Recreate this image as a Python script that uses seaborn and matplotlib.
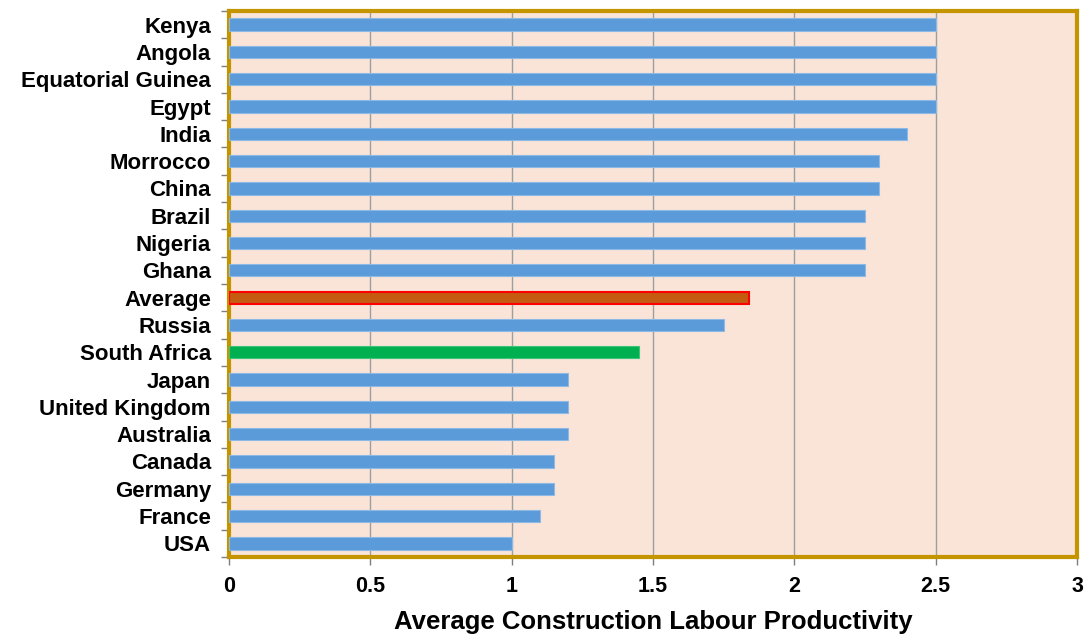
import matplotlib
matplotlib.use("Agg")
import matplotlib.pyplot as plt
import seaborn as sns
import pandas as pd

countries = ["Kenya", "Angola", "Equatorial Guinea", "Egypt", "India", "Morrocco",
             "China", "Brazil", "Nigeria", "Ghana", "Average", "Russia",
             "South Africa", "Japan", "United Kingdom", "Australia", "Canada",
             "Germany", "France", "USA"]
productivity = [2.5, 2.5, 2.5, 2.5, 2.4, 2.3, 2.3, 2.25, 2.25, 2.25, 1.84, 1.75,
                1.45, 1.2, 1.2, 1.2, 1.15, 1.15, 1.1, 1.0]
x_ticks = [0, 0.5, 1, 1.5, 2, 2.5, 3]
x_tick_labels = ["0", "0.5", "1", "1.5", "2", "2.5", "3"]

blue = "#5B9BD9"
colors = {c: blue for c in countries}
colors["Average"] = "#C55A11"
colors["South Africa"] = "#00B050"

df = pd.DataFrame({"country": countries, "value": productivity})

sns.set_style("white")
plt.rcParams["font.family"] = ["Liberation Sans", "DejaVu Sans"]
plt.rcParams["text.color"] = "black"
plt.rcParams["xtick.color"] = "black"
plt.rcParams["ytick.color"] = "black"
plt.rcParams["axes.labelcolor"] = "black"

fig = plt.figure(figsize=(10.87, 6.35), dpi=100)
ax = fig.add_axes([0.2107, 0.1228, 0.7801, 0.8599])
ax.set_facecolor("#FAE4D7")

sns.barplot(data=df, x="value", y="country", hue="country", palette=colors,
            legend=False, width=0.45, orient="h", saturation=1, ax=ax, zorder=3)

for patch, name in zip(ax.patches, countries):
    if name == "Average":
        patch.set_edgecolor("#FF0000")
        patch.set_linewidth(1.5)
    else:
        patch.set_edgecolor("#8DB9E6" if name != "South Africa" else "#3CC47A")
        patch.set_linewidth(0.8)

ax.set_xlim(0, 3)
ax.set_ylim(len(countries) - 0.5, -0.5)
ax.set_xticks(x_ticks)
ax.set_xticklabels(x_tick_labels, fontsize=15.5, fontweight="bold")
ax.xaxis.grid(True, color="#9E9E9E", linewidth=1, zorder=0)
ax.set_axisbelow(True)

ax.set_yticks(range(len(countries)))
ax.set_yticklabels(countries, fontsize=16, fontweight="bold")
ax.set_yticks([i - 0.5 for i in range(len(countries) + 1)], minor=True)
ax.tick_params(axis="y", which="major", left=False, length=0, pad=13)
ax.tick_params(axis="y", which="minor", left=True, length=6, width=1,
               color="#7F7F7F", direction="out")
ax.tick_params(axis="x", which="major", bottom=True, length=6, width=1,
               color="#7F7F7F", direction="out", pad=8)

for side in ["top", "right", "bottom", "left"]:
    ax.spines[side].set_visible(True)
    ax.spines[side].set_color("#C59500")
    ax.spines[side].set_linewidth(3)

ax.set_xlabel("Average Construction Labour Productivity", fontsize=18.5,
              fontweight="bold", labelpad=9)
ax.set_ylabel("")

fig.savefig("out.png", dpi=100)
